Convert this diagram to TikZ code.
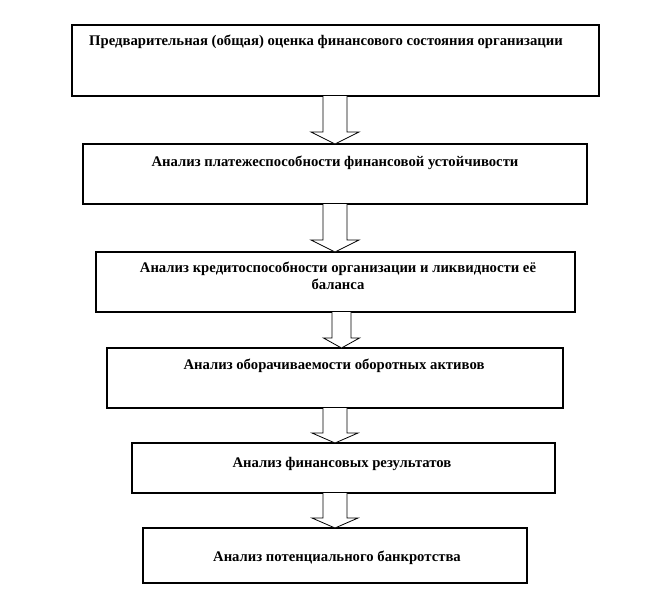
\documentclass[tikz,border=0pt]{standalone}
\usepackage{fontspec}
\setmainfont{Liberation Serif}
\usetikzlibrary{calc}
\begin{document}
\begin{tikzpicture}[x=1pt,y=-1pt,
  stagebox/.style={draw=black,line width=1.1pt,inner sep=0pt,outer sep=0pt,rectangle},
  lbl/.style={font=\fontsize{14.7}{17}\selectfont\bfseries,align=center,inner sep=0pt},
  blockarrow/.style={draw=black,line width=0.8pt,fill=white,line join=miter}]
\useasboundingbox (0,0) rectangle (648,600);
% boxes
\node[stagebox,minimum width=527pt,minimum height=71pt] (b1) at (335.5,60.5) {};
\node[stagebox,minimum width=504pt,minimum height=60pt] (b2) at (335,174) {};
\node[stagebox,minimum width=479pt,minimum height=60pt] (b3) at (335.5,282) {};
\node[stagebox,minimum width=456pt,minimum height=60pt] (b4) at (335,378) {};
\node[stagebox,minimum width=423pt,minimum height=50pt] (b5) at (343.5,468) {};
\node[stagebox,minimum width=384pt,minimum height=55pt] (b6) at (335,555.5) {};
% labels
\node[lbl] (t1) at (326,42) {Предварительная (общая) оценка финансового состояния организации};
\node[lbl] (t2) at (335,163) {Анализ платежеспособности финансовой устойчивости};
\node[lbl] (t3) at (338,275.5) {Анализ кредитоспособности организации и ликвидности её\\баланса};
\node[lbl] (t4) at (334,366) {Анализ оборачиваемости оборотных активов};
\node[lbl] (t5) at (342,464) {Анализ финансовых результатов};
\node[lbl] (t6) at (337,558) {Анализ потенциального банкротства};
% arrow axes
\coordinate (a1) at (335,0);
\coordinate (a2) at (335,0);
\coordinate (a3) at (341.5,0);
\coordinate (a4) at (335,0);
\coordinate (a5) at (335,0);
\newcommand\stagearrow[6]{%
  \draw[blockarrow] ($(#1.south -| #3)+(-#4,0)$) -- ($(#2.north -| #3)+(-#4,-#6)$)
    -- ($(#2.north -| #3)+(-#5,-#6)$) -- (#2.north -| #3)
    -- ($(#2.north -| #3)+(#5,-#6)$) -- ($(#2.north -| #3)+(#4,-#6)$)
    -- ($(#1.south -| #3)+(#4,0)$);}
\stagearrow{b1}{b2}{a1}{12}{24}{12}
\stagearrow{b2}{b3}{a2}{12}{24}{12}
\stagearrow{b3}{b4}{a3}{9.5}{18}{10}
\stagearrow{b4}{b5}{a4}{12}{23}{10}
\stagearrow{b5}{b6}{a5}{12}{23}{10}
\end{tikzpicture}
\end{document}
